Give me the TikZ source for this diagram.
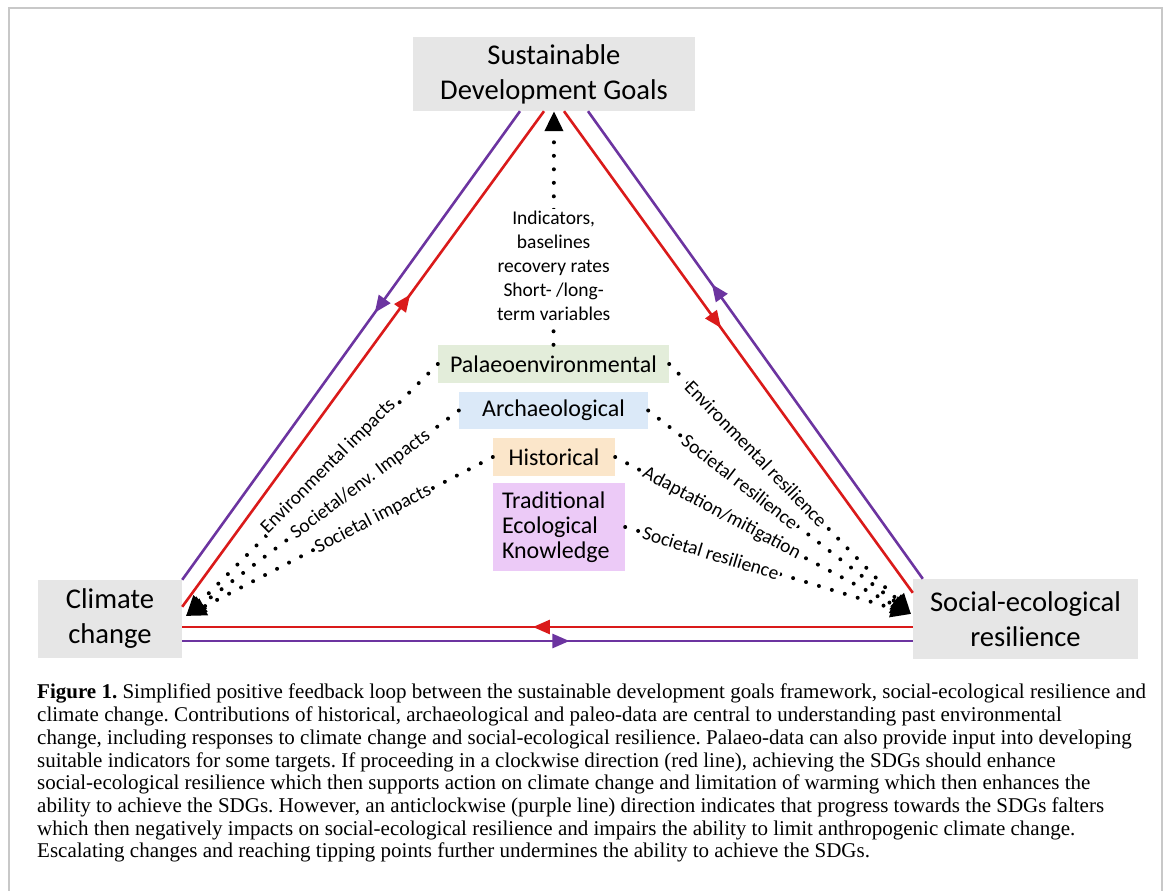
\documentclass[tikz,border=0pt]{standalone}
\usepackage{fontspec}
\setmainfont{Liberation Serif}
\newfontfamily\diagfont{Carlito}
\usetikzlibrary{arrows.meta,positioning,calc,decorations.markings}
\definecolor{cwred}{RGB}{218,26,26}
\definecolor{acwpurple}{RGB}{108,52,160}
\definecolor{boxgray}{RGB}{230,230,230}
\definecolor{palgreen}{RGB}{227,237,218}
\definecolor{arcblue}{RGB}{219,233,248}
\definecolor{hisbeige}{RGB}{251,230,202}
\definecolor{tekpink}{RGB}{236,202,247}
\definecolor{framegray}{RGB}{200,200,200}
\tikzset{
  mainbox/.style={fill=boxgray, inner sep=0pt, align=center,
                  font=\diagfont\fontsize{28.6}{35}\selectfont},
  srcbox/.style={inner sep=0pt, align=center, minimum height=38pt,
                 font=\diagfont\fontsize{24}{25}\selectfont},
  lbl/.style={font=\diagfont\fontsize{19.5}{24}\selectfont, fill=white, inner sep=1.5pt},
  dotarr/.style={line width=4pt, line cap=round, dash pattern=on 0pt off 13.5pt,
                 -{Triangle[length=20pt,width=18pt]}},
  loopline/.style 2 args={#1, line width=2.6pt, postaction={decorate, decoration={markings,
      mark=at position #2 with {\arrow{Triangle[length=17pt,width=14pt]}}}}},
  capt/.style={inner sep=0pt, align=left, font=\frenchspacing\fontsize{21}{22.7}\selectfont},
}
\begin{document}
\begin{tikzpicture}[x=1pt, y=-1pt]
  \useasboundingbox (0,0) rectangle (1168,891);
  \draw[framegray, line width=2pt] (9,891) -- (9,8) -- (1162,8) -- (1162,891);

  % the three corners of the loop
  \node[mainbox, minimum width=282pt, minimum height=74pt] (sdg) at (554,74) {Sustainable\\Development Goals};
  \node[mainbox, minimum width=144pt, minimum height=78pt] (cc) at (110,619) {Climate\\change};
  \node[mainbox, minimum width=225pt, minimum height=80pt] (ser) at (1025.5,619) {Social-ecological\\resilience};

  % sources of past data
  \node[srcbox, fill=palgreen, minimum width=231pt] (palaeo) at (553.5,364) {Palaeoenvironmental};
  \node[srcbox, fill=arcblue, minimum width=189pt, minimum height=37pt] (archaeo) at (553.5,410.5) {Archaeological};
  \node[srcbox, fill=hisbeige, minimum width=122pt] (hist) at (554,457) {Historical};
  \node[srcbox, fill=tekpink, align=left, text width=114pt, inner xsep=9pt, minimum height=88pt] (tek) at (559,527) {Traditional\\Ecological\\Knowledge};

  \coordinate (sdgRL) at ($(sdg.south)+(-10,0)$);
  \coordinate (sdgRR) at ($(sdg.south)+(10,0)$);
  \coordinate (sdgPL) at ($(sdg.south)+(-34,0)$);
  \coordinate (sdgPR) at ($(sdg.south)+(34,0)$);
  \coordinate (ccR) at ($(cc.north east)+(0,27)$);
  \coordinate (ccP) at (cc.north east);
  \coordinate (ccRb) at ($(cc.east)+(0,8)$);
  \coordinate (ccPb) at ($(cc.east)+(0,22)$);
  \coordinate (serR) at ($(ser.north west)+(0,14)$);
  \coordinate (serP) at ($(ser.north west)+(10,0)$);
  \coordinate (serRb) at ($(ser.west)+(0,8)$);
  \coordinate (serPb) at ($(ser.west)+(0,22)$);

  % clockwise (red) and anticlockwise (purple)
  \draw[loopline={cwred}{0.63}] (ccR) -- (sdgRL);
  \draw[loopline={cwred}{0.45}] (sdgRR) -- (serR);
  \draw[loopline={cwred}{0.52}] (serRb) -- (ccRb);
  \draw[loopline={acwpurple}{0.43}] (sdgPL) -- (ccP);
  \draw[loopline={acwpurple}{0.53}] (ccPb) -- (serPb);
  \draw[loopline={acwpurple}{0.63}] (serP) -- (sdgPR);

  \coordinate (cctip) at (186,616);
  \coordinate (sertip) at (911,614);

  \draw[dotarr] (palaeo.north) -- node[lbl, pos=.34, align=center] {Indicators,\\baselines\\recovery rates\\Short- /long-\\term variables} (sdg.south);
  \draw[dotarr] (palaeo.west) -- node[lbl, sloped, pos=.42, anchor=base] {Environmental impacts} (cctip);
  \draw[dotarr] (archaeo.west) -- node[lbl, sloped, pos=.36] {Societal/env. Impacts} (cctip);
  \draw[dotarr] (hist.west) -- node[lbl, sloped, pos=.39] {Societal impacts} (cctip);
  \draw[dotarr] (palaeo.east) -- node[lbl, sloped, pos=.36] {Environmental resilience} (sertip);
  \draw[dotarr] (archaeo.east) -- node[lbl, sloped, pos=.35] {Societal resilience} (sertip);
  \draw[dotarr] (hist.east) -- node[lbl, sloped, pos=.36] {Adaptation/mitigation} (sertip);
  \draw[dotarr] (tek.east) -- node[lbl, sloped, pos=.30] {Societal resilience} (sertip);

  \node[capt, anchor=north west] (caption) at (37,684) {\textbf{Figure 1.} Simplified positive feedback loop between the sustainable development goals framework, social-ecological resilience and\\
climate change. Contributions of historical, archaeological and paleo-data are central to understanding past environmental\\
change, including responses to climate change and social-ecological resilience. Palaeo-data can also provide input into developing\\
suitable indicators for some targets. If proceeding in a clockwise direction (red line), achieving the SDGs should enhance\\
social-ecological resilience which then supports action on climate change and limitation of warming which then enhances the\\
ability to achieve the SDGs. However, an anticlockwise (purple line) direction indicates that progress towards the SDGs falters\\
which then negatively impacts on social-ecological resilience and impairs the ability to limit anthropogenic climate change.\\
Escalating changes and reaching tipping points further undermines the ability to achieve the SDGs.};
\end{tikzpicture}
\end{document}
